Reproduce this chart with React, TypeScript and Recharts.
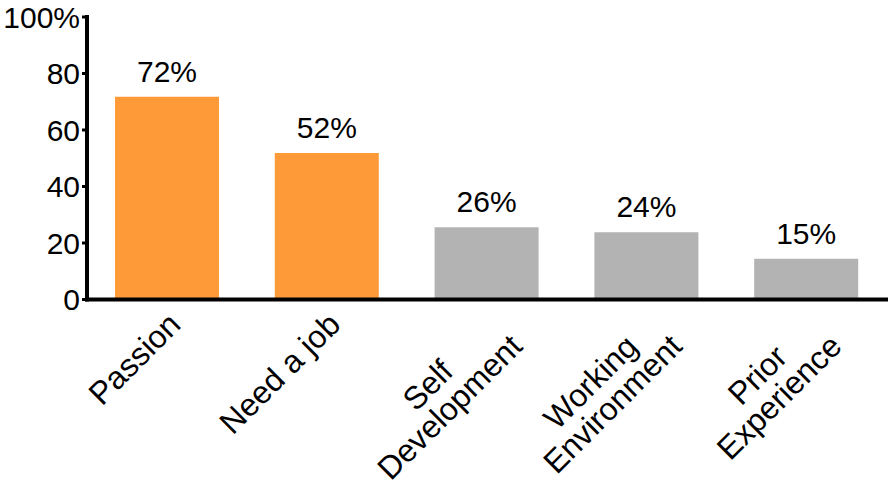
import { BarChart, Bar, XAxis, YAxis, Cell, LabelList } from 'recharts';

const CATEGORIES = [['Passion'], ['Need a job'], ['Self', 'Development'], ['Working', 'Environment'], ['Prior', 'Experience']];
const VALUES = [71.8, 51.9, 25.6, 23.8, 14.4];
const VALUE_LABELS = ['72%', '52%', '26%', '24%', '15%'];
const HIGHLIGHT = [true, true, false, false, false];
const Y_TICKS = [0, 20, 40, 60, 80, 100];

const FONT = "'Liberation Sans', Arial, Helvetica, sans-serif";
const ORANGE = '#FE9A37';
const GREY = '#B3B3B3';
const X_FONT_SIZE = 32;

const data = CATEGORIES.map((lines, i) => ({
  name: lines.join(' '),
  lines,
  value: VALUES[i],
  label: VALUE_LABELS[i],
  hot: HIGHLIGHT[i],
}));

let ctx: CanvasRenderingContext2D | null = null;
function textWidth(s: string) {
  if (!ctx) ctx = document.createElement('canvas').getContext('2d');
  if (!ctx) return s.length * X_FONT_SIZE * 0.55;
  ctx.font = `${X_FONT_SIZE}px ${FONT}`;
  return ctx.measureText(s).width;
}

// lines are centred on each other, the longest one ends just left of the tick
function CategoryTick({ x, y, index }: { x?: number; y?: number; index?: number }) {
  const lines = data[index ?? 0].lines;
  const maxW = Math.max(...lines.map(textWidth));
  const cx = -8 - maxW / 2;
  return (
    <g transform={`translate(${x},${y}) rotate(-45)`}>
      {lines.map((l, i) => (
        <text key={l} x={cx} y={30 + i * 31} textAnchor="middle" fontSize={X_FONT_SIZE} fontFamily={FONT} fill="#000">
          {l}
        </text>
      ))}
    </g>
  );
}

const axisStyle = { stroke: '#000', strokeWidth: 4, strokeLinecap: 'square' as const };

export default function App() {
  return (
    <div style={{ position: 'absolute', left: 0, top: 0, width: 893, height: 486, background: '#fff' }}>
      <BarChart
        width={893}
        height={486}
        data={data}
        margin={{ top: 17, right: 7, left: 0, bottom: 0 }}
        barSize={104}
      >
        <XAxis
          dataKey="name"
          interval={0}
          height={186.5}
          axisLine={axisStyle}
          tickLine={false}
          tickSize={0}
          tickMargin={0}
          tick={<CategoryTick />}
        />
        <YAxis
          width={87}
          domain={[0, 100]}
          ticks={Y_TICKS}
          interval={0}
          axisLine={axisStyle}
          tickLine={{ stroke: '#000', strokeWidth: 3 }}
          tickSize={5}
          tickMargin={2}
          tick={{ fontSize: 30, fill: '#000', fontFamily: FONT }}
          tickFormatter={(v: number) => (v === 100 ? '100%' : String(v))}
        />
        <Bar dataKey="value" isAnimationActive={false}>
          {data.map((d) => (
            <Cell key={d.name} fill={d.hot ? ORANGE : GREY} />
          ))}
          <LabelList dataKey="label" position="top" offset={15} fontSize={30} fill="#000" fontFamily={FONT} />
        </Bar>
      </BarChart>
    </div>
  );
}
